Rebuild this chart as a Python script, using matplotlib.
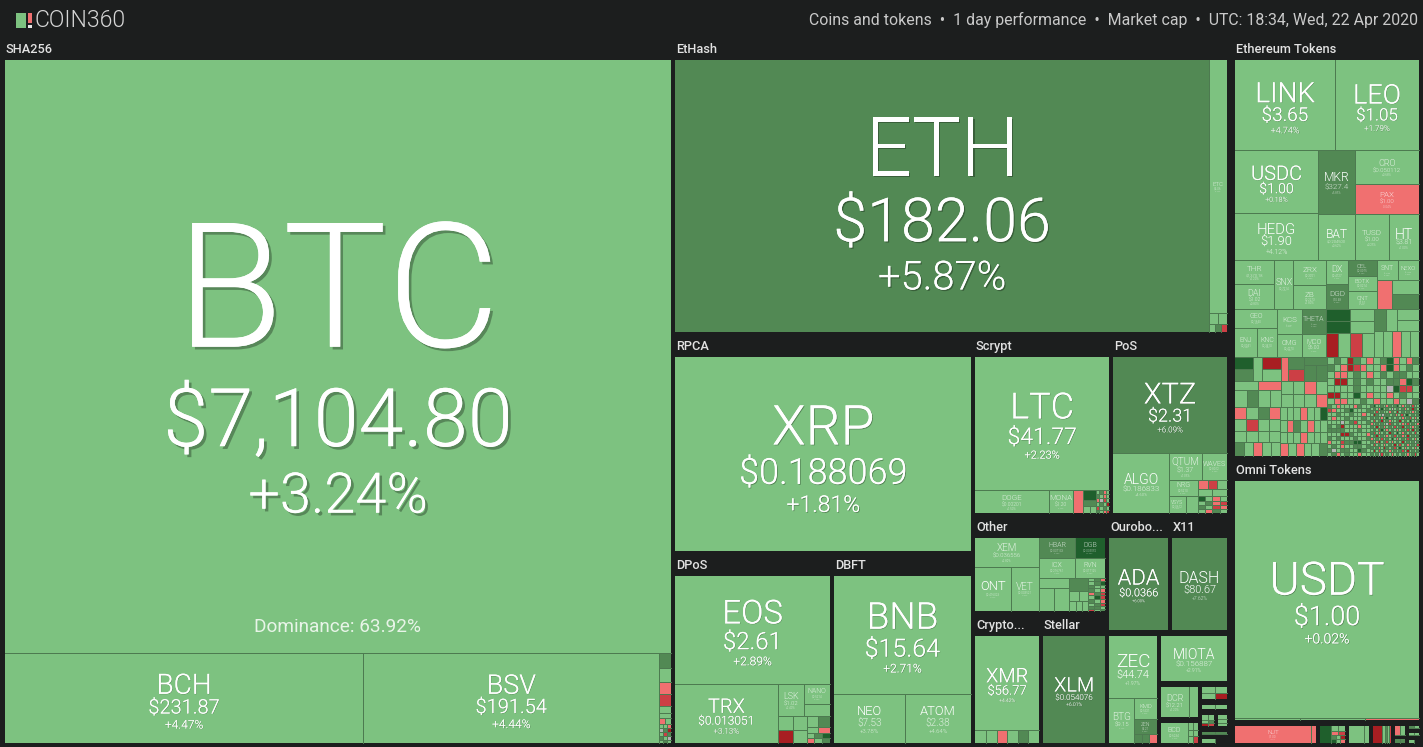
import re
import matplotlib
matplotlib.use("Agg")
import matplotlib.pyplot as plt
import matplotlib.patheffects as pe
from matplotlib.patches import Rectangle
from matplotlib.collections import LineCollection

# ---------- data: named coins ----------
coin_names = ["BTC","BCH","BSV","ETH","ETC","XRP","LTC","DOGE","MONA","XTZ","ALGO","QTUM","WAVES","NRG","VSYS",
 "EOS","TRX","LSK","NANO","BNB","NEO","ATOM","XEM","ONT","VET","HBAR","DGB","ICX","RVN","ADA","DASH","XMR","XLM",
 "ZEC","BTG","KMD","ZEN","MIOTA","DCR","BCD","NUT","USDT",
 "LINK","LEO","USDC","HEDG","MKR","CRO","PAX","BAT","TUSD","HT",
 "THR","DAI","SNX","ZRX","ZB","DX","DGD","CEL","BOTX","QNT","SNT","NEXO",
 "GEO","ENJ","KNC","KCS","THETA","OMG","MCO"]
coin_caps = [131424,10740,8880,48325,1518,19077,5941,567,184,3610,1098,295,217,155,96,
 5508,1967,269,165,5389,1160,1078,609,525,420,240,200,240,200,1829,1674,1984,2200,
 992,375,161,115,975,280,190,425,14664,
 3000,2520,1743,1301,789,725,640,567,521,460,
 312,325,310,275,264,168,175,155,145,174,140,140,
 266,213,193,208,200,192,184]
coin_prices = ["$7,104.80","$231.87","$191.54","$182.06","$6.06","$0.188069","$41.77","$0.00201","$1.20","$2.31","$0.186833","$1.37","$0.8012","$0.5210","$0.0612",
 "$2.61","$0.013051","$1.02","$0.5214","$15.64","$7.53","$2.38","$0.036556","$0.416023","$0.003521","$0.037133","$0.005952","$0.216761","$0.017125","$0.0366","$80.67","$56.77","$0.054076",
 "$44.74","$9.15","$0.5321","$5.21","$0.156887","$12.21","$0.6234","$1.00","$1.00",
 "$3.65","$1.05","$1.00","$1.90","$327.4","$0.050112","$1.00","$0.204509","$1.00","$3.81",
 "$1,379.18","$1.02","$0.7214","$0.3021","$0.2273","$0.4127","$10.48","$0.0975","$0.0214","$1.51","$0.0126","$0.1102",
 "$0.1640","$0.0941","$0.3410","$0.2751","$0.0821","$0.4270","$6.00"]
coin_changes = [3.24,4.47,4.44,5.87,3.10,1.81,2.23,1.50,2.10,6.09,4.60,1.95,2.40,2.10,1.50,
 2.89,3.13,2.40,2.00,2.71,3.78,4.64,2.89,1.60,1.80,5.60,10.40,1.90,2.00,6.00,7.62,4.42,6.01,
 1.97,2.10,1.40,5.50,2.91,1.20,1.10,-2.10,0.02,
 4.74,1.79,0.18,4.12,5.85,0.68,-0.04,0.62,0.25,1.00,
 1.20,0.80,1.60,2.30,1.80,1.10,5.30,6.20,2.10,1.40,2.00,1.30,
 1.10,2.00,2.20,1.50,5.60,2.40,1.90]

# ---------- data: tails of unlabelled small coins (code letter = change band, leading number = row weight) ----------
code_changes = {"g":2.0,"d":7.0,"D":14.0,"r":-3.0,"m":-7.0,"R":-14.0,"n":0.0}
tail_names = ["sha1","eh1","sc1","sc2","sc3","pos1","pos2","dp1","dp2","dp3","dp4",
 "ot1","ot2","ot3","ot4","ot5","cr1","zc1","dc1","bc1","r1","r2","r3a","r3b","r4",
 "om1","nt1","b2a","b2b","b3","b4","b5","b6",
 "c1","c2","d1","d2","d3","d4",
 "e1","e2","e3","e4","e5","e6","e7","e8","e9","e10","top","mid","fine"]
tail_caps = [360,114,80,100,100,68,319,135,126,207,104,
 110,115,115,209,187,277,69,90,70,174,97,88,76,164,
 123,28,90,110,184,169,107,107,
 261,145,768,169,161,390,
 144,72,152,56,128,184,399,398,735,768,1441,745,849]
tail_codes = ["15d|14g|12r|12m|7g|5g|6rg|4ggr|4ndR|4gmd|4dgn|3gdg",
 "11gg|8gdm",
 "23r",
 "10D|6d|7gg",
 "4gdrg|4dgrg|4rnmg|4gdgR|4mgdg|3dgrm",
 "17g",
 "9rmg|7gg|5Dgrg|4gdrm|4dgmr|4grdg",
 "14g|13R","14g|13g","11gd|6gr|5gdD|5rgd","12g",
 "11g","23g","23g","13d|10gg|10ggg",
 "3gdr|4gdD|3dgg|4dgr|3rdm|4gDm|4dgr|3gdm|3ddg|2mgd",
 "14ggrgdg",
 "9ddr",
 "30g",
 "7gg|7gg|7gm",
 "6gg|6gR",
 "4gg",
 "5gg|3gd|3Rm",
 "4g|4g|3g",
 "2dd|5__|4g_",
 "h:6g|6g|5r",
 "2r",
 "17D",
 "5gg|4rm|4dgR|4Dgr",
 "h:13g|4g",
 "h:17R|4g|4d|4g|4m",
 "9rg|4__|4dd",
 "2dg|5_|2gg|5_|3g_",
 "14g|15d",
 "29r",
 "12Dg|12Dg|24Rgmg",
 "22dg",
 "11g|11g",
 "26ggrgg",
 "12D|12d","24g","12R|12g","24r","12d|12m","8d|16dd",
 "9gr|17gdgg","13ggrg|13gggr",
 "12rgdr|12gmgg|11gggg|14dgrgg",
 "13gggrggD|12grdgrgg|11gggrggg|13rgrggd",
 "7gdgRdgrgdDrgrd|7dgrRmrggrDrgdg|7grrgdgrgdgddgg|7gRRgdgdggddrDd|7ggggdggggnDmmg|6RRggDgrggrgdgg|6grrggdgrggrgnd",
 "4dgrgggrdgg|4mrggdDgggd|4ggdggdggrg|4grggdgggdg|4gggngdmggd|4dgdRgggrgg|4ddddgggdgg|4gggRRdgggr|4dgdgggdggd|4rggmddDDgg|4gdgrggddgd|4dngddggDdg|4gdrgdggrgg",
 "3dDggdgrdgdDgrgdgmgg|3gdgrDgdgngdgdrgdRdg|3dgmgdggrdgRgdgdgrgd|3gRdgnddgdrgmgDgdgd|3dgdgrgDgdgdgrgdmgrg|3gmgdRgdrggdRgdgDgnd|3rgdgdgnmdgdgrgmgdgr|3dgRgdrgdgmgdRgdgrgd|3gdgmDgrgdgrgdgmgRgd|3dmgrgdgRdgDgrdgdgmg|3gdRgdgrgdmgdrgRgdgd|3rgdgmgdgDgrgdgmdgrg|3dgrRgdmgrgdgRgdgdnd|3gmgdgrgdgRgmgdrgdgm|3dgdrgRdgdmgDgrgdgrg|3gRgmgdgrgdgdmgRgdgd|4dgdnmgdgrgdgdgrgdmg"]

# ---------- data: market groups ----------
group_names = ["SHA256","EtHash","RPCA","DPoS","DBFT","Scrypt","PoS","Other","Crypto...","Stellar","Ourobo...","X11",
 "zec","miota","dcr","bcd","r1","r2","r3a","r3b","r4",
 "Ethereum Tokens","Omni Tokens","b1","b2","b3","b4","b5","b6","_gutter"]
group_caps = [158240,55000,21900,10144,9056,8326,7119,4377,2992,2904,2457,2301,
 1959,1190,492,355,174,97,88,76,164,
 26383,16544,652,222,184,169,107,107,944]
group_titles = ["SHA256","EtHash","RPCA","DPoS","DBFT","Scrypt","PoS","Other","Crypto...","Stellar","Ourobo...","X11",
 "","","","","","","","","",
 "Ethereum Tokens","Omni Tokens","","","","","","",""]

# ---------- slicing order of the treemap ----------
top_tree = ("h",["SHA256",
 ("v",["EtHash",("h",[("v",["RPCA",("h",["DPoS","DBFT"])]),
   ("v",[("h",["Scrypt","PoS"]),
     ("h",[("v",["Other",("h",["Crypto...","Stellar"])]),
       ("v",[("h",["Ourobo...","X11"]),("h",["zec",("v",["miota",("h",[("v",["dcr","bcd"]),
          ("v",["r1","r2",("h",["r3a","r3b"]),"r4"])])])])])])])])]),
 "_gutter",
 ("v",["Ethereum Tokens","Omni Tokens",("h",["b1","b2","b3","b4","b5","b6"])])])
group_trees = {
 "SHA256":("v",["BTC",("h",["BCH","BSV","sha1"])]),
 "EtHash":("h",["ETH",("v",["ETC","eh1"])]),
 "RPCA":"XRP",
 "DPoS":("v",["EOS",("h",["TRX",("v",[("h",["LSK",("v",["NANO","dp4"])]),("h",["dp1","dp2","dp3"])])])]),
 "DBFT":("v",["BNB",("h",["NEO","ATOM"])]),
 "Scrypt":("v",["LTC",("h",["DOGE","MONA","sc1","sc2","sc3"])]),
 "PoS":("v",["XTZ",("h",["ALGO",("v",[("h",["QTUM","WAVES"]),("h",[("v",["NRG",("h",["VSYS","pos1"])]),"pos2"])])])]),
 "Other":("h",[("v",["XEM",("h",["ONT","VET"])]),("v",[("h",["HBAR","DGB"]),("h",["ICX","RVN"]),
      ("h",[("v",["ot1",("h",["ot2","ot3"])]),"ot4","ot5"])])]),
 "Crypto...":("v",["XMR","cr1"]),
 "Stellar":"XLM","Ourobo...":"ADA","X11":"DASH",
 "zec":("v",["ZEC",("h",["BTG",("v",["KMD","ZEN","zc1"])])]),
 "miota":"MIOTA","dcr":("h",["DCR","dc1"]),"bcd":("h",["BCD","bc1"]),
 "r1":"r1","r2":"r2","r3a":"r3a","r3b":"r3b","r4":"r4",
 "Ethereum Tokens":("v",[("h",["LINK","LEO"]),
   ("h",[("v",["USDC","HEDG"]),("v",[("h",["MKR",("v",["CRO","PAX"])]),("h",["BAT","TUSD","HT"])])]),
   ("h",[("v",["THR","DAI"]),"SNX",("v",["ZRX","ZB"]),("v",["DX","DGD"]),("v",["CEL","BOTX","QNT"]),
         ("v",[("h",["SNT","NEXO"]),("h",["c2","c1"])])]),
   ("h",[("v",["GEO",("h",["ENJ","KNC"])]),("v",[("h",["KCS","THETA"]),("h",["OMG","MCO"])]),"d1",
         ("v",[("h",["d2","d3"]),"d4"])]),
   ("h",[("v",[("h",["e1","e2","e3","e4","e5","e6"]),("h",["e7","e8"]),("h",["e9","e10"])]),
         ("v",["top",("h",["mid","fine"])])])]),
 "Omni Tokens":("v",["USDT","om1"]),
 "b1":("h",["NUT","nt1"]),"b2":("h",["b2a","b2b"]),"b3":"b3","b4":"b4","b5":"b5","b6":"b6",
}

# ---------- label font sizes in pixels (name, price, change) ----------
label_px = {"BTC":(174,81,56),"BCH":(28,20,12),"BSV":(27,20,12),"ETH":(82,61,40),"ETC":(6,3,2),"XRP":(55,36,23),
 "LTC":(36,23,11),"DOGE":(8,5,3),"MONA":(8,5,2),"XTZ":(29,18,8),"ALGO":(14,8,4),"QTUM":(10,7,3),"WAVES":(7,3,2),
 "NRG":(7,3,2),"VSYS":(5,3,2),"EOS":(33,24,12),"TRX":(20,12,8),"LSK":(9,6,3),"NANO":(7,3,2),"BNB":(37,25,12),
 "NEO":(13,10,6),"ATOM":(13,10,6),"XEM":(10,6,3),"ONT":(13,3,2),"VET":(10,3,2),"HBAR":(7,3,2),"DGB":(7,3,2),
 "ICX":(7,3,2),"RVN":(7,3,2),"ADA":(22,11,4),"DASH":(16,11,5),"XMR":(20,13,5),"XLM":(20,8,5),"ZEC":(19,11,5),
 "BTG":(10,6,2),"KMD":(6,3,2),"ZEN":(5,3,2),"MIOTA":(14,8,5),"DCR":(9,6,3),"BCD":(7,3,2),"NUT":(6,3,2),
 "USDT":(46,27,14),"LINK":(28,19,9),"LEO":(27,17,8),"USDC":(20,14,7),"HEDG":(15,13,7),"MKR":(12,8,3),"CRO":(9,6,3),
 "PAX":(8,6,3),"BAT":(12,4,3),"TUSD":(8,6,3),"HT":(14,7,3),"THR":(8,4,3),"DAI":(9,5,3),"SNX":(9,3,2),"ZRX":(8,3,2),
 "ZB":(8,3,3),"DX":(9,3,2),"DGD":(8,3,2),"CEL":(6,3,2),"BOTX":(6,3,2),"QNT":(6,3,2),"SNT":(7,2,2),"NEXO":(6,2,2),
 "GEO":(7,3,2),"ENJ":(7,3,2),"KNC":(7,3,2),"KCS":(8,2,2),"THETA":(7,2,2),"OMG":(7,3,2),"MCO":(7,5,2)}

BG="#1c1e1e"; EDGE="#4d7a50"
LIGHT="#7dc280"; MID="#528954"; DARK="#1f5f2c"; PINK="#f07070"; CRIM="#cc3f45"; BLOOD="#a81e22"; GREY="#b4b4b4"
plt.rcParams["font.family"]=["Roboto","DejaVu Sans"]

def colour(p):
    if p==0: return GREY
    if p>0: return LIGHT if p<5 else (MID if p<10 else DARK)
    return PINK if p>-5 else (CRIM if p>-10 else BLOOD)

coins=dict(zip(coin_names,zip(coin_caps,coin_prices,coin_changes)))
tails=dict(zip(tail_names,zip(tail_caps,tail_codes)))
groups=dict(zip(group_names,group_caps))
titles=dict(zip(group_names,group_titles))

def tile_weight(n):
    if isinstance(n,tuple): return sum(tile_weight(c) for c in n[1])
    return coins[n][0] if n in coins else tails[n][0]
def group_weight(n):
    if isinstance(n,tuple): return sum(group_weight(c) for c in n[1])
    return groups[n]

def slice_rect(rect,node,weight,visit):
    if not isinstance(node,tuple):
        visit(node,rect); return
    x0,y0,x1,y1=rect; d,kids=node
    tot=sum(weight(k) for k in kids); pos=x0 if d=="h" else y0
    span=(x1-x0) if d=="h" else (y1-y0)
    for k in kids:
        s=span*weight(k)/tot
        r=(pos,y0,pos+s,y1) if d=="h" else (x0,pos,x1,pos+s)
        slice_rect(r,k,weight,visit); pos+=s

fig=plt.figure(figsize=(14.23,7.47),dpi=100,facecolor=BG)
ax=fig.add_axes([0,0,1,1]); ax.set_xlim(0,1423); ax.set_ylim(747,0); ax.axis("off")
PT=0.72
segs=[]

def cell(x0,y0,x1,y1,p,frame):
    X0,Y0,X1,Y1=round(x0),round(y0),round(x1),round(y1)
    if X1<=X0 or Y1<=Y0: return
    ax.add_patch(Rectangle((X0,Y0),X1-X0,Y1-Y0,fc=colour(p),ec="none",lw=0,antialiased=False,zorder=2))
    if X1<round(frame[2]): segs.append([(X1-.5,Y0),(X1-.5,Y1)])
    if Y1<round(frame[3]): segs.append([(X0,Y1-.5),(X1,Y1-.5)])

def draw_tail(name,rect,frame):
    code=tails[name][1]; x0,y0,x1,y1=rect
    cols=code.startswith("h:")
    if cols: code=code[2:]
    parts=[re.match(r"(\d+)([A-Za-z_]+)",s).groups() for s in code.split("|")]
    tot=sum(int(a) for a,_ in parts)
    pos=x0 if cols else y0; span=(x1-x0) if cols else (y1-y0)
    for a,chars in parts:
        s=span*int(a)/tot; n=len(chars)
        for i,c in enumerate(chars):
            if c=="_": continue
            if cols:
                l,r=pos,pos+s; t,b=y0+(y1-y0)*i/n,y0+(y1-y0)*(i+1)/n
            else:
                l,r=x0+(x1-x0)*i/n,x0+(x1-x0)*(i+1)/n; t,b=pos,pos+s
            cell(l,t,r,b,code_changes[c],frame)
        pos+=s

def label(name,rect):
    x0,y0,x1,y1=rect; cx=(x0+x1)/2; cy=(y0+y1)/2
    e,p,c=label_px[name]; _,price,ch=coins[name]
    d1=(e+p)/2; d2=1.08*(p+c)/2
    mid=cy+0.22*e
    yn=mid-(d1+d2)/2; yp=yn+d1; yc=yp+d2
    eff=[]
    if e>=20:
        o=e*0.016*PT
        eff=[pe.withSimplePatchShadow(offset=(o,-o),shadow_rgbFace="#000000",alpha=0.3),pe.Normal()]
    for txt,size,y in ((name,e,yn),(price,p,yp),(f"{ch:+.2f}%",c,yc)):
        a=1.0 if size>=11 else 0.75
        t=ax.text(cx,y+0.03*size+(2 if e<30 and size==e and e>=14 else 0),txt,color="white",alpha=a,fontsize=size*PT,fontweight=300,ha="center",va="center",zorder=5)
        if eff: t.set_path_effects(eff)

def draw_group(g,rect):
    if g=="_gutter": return
    x0,y0,x1,y1=rect; title=titles[g]
    top=25 if title else 6
    frame=(x0+2,y0+top,x1-2,y1)
    if title:
        ax.text(round(frame[0])+1,frame[1]-10.5,title,color="#e2e2e2",fontsize=12.8*PT,fontweight=500,ha="left",va="center",zorder=5)
    def visit(n,r):
        if n in coins:
            cell(*r,coins[n][2],frame); label(n,r)
        else:
            draw_tail(n,r,frame)
    slice_rect(frame,group_trees[g],tile_weight,visit)

slice_rect((3,35,1421,743),top_tree,group_weight,draw_group)
ax.add_collection(LineCollection(segs,colors=EDGE,linewidths=1*PT,antialiased=False,zorder=3))

ax.text(337,627,"Dominance: 63.92%",color="#e8f4e8",fontsize=19*PT,fontweight=400,ha="center",va="center",zorder=5)

# header
ax.add_patch(Rectangle((16,13),10,15,fc=LIGHT,ec="none",zorder=5))
ax.add_patch(Rectangle((28,13),4,10,fc=PINK,ec="none",zorder=5))
ax.add_patch(Rectangle((28,25),4,3,fc="#e8e8e8",ec="none",zorder=5))
ax.text(34,20.5,"COIN360",color="#d6d6d6",fontsize=23*PT,fontweight=300,ha="left",va="center",zorder=5)
ax.text(1418,20,"Coins and tokens  •  1 day performance  •  Market cap  •  UTC: 18:34, Wed, 22 Apr 2020",
        color="#c9c9c9",fontsize=15.85*PT,ha="right",va="center",zorder=5)

fig.savefig("out.png",dpi=100,facecolor=BG)
